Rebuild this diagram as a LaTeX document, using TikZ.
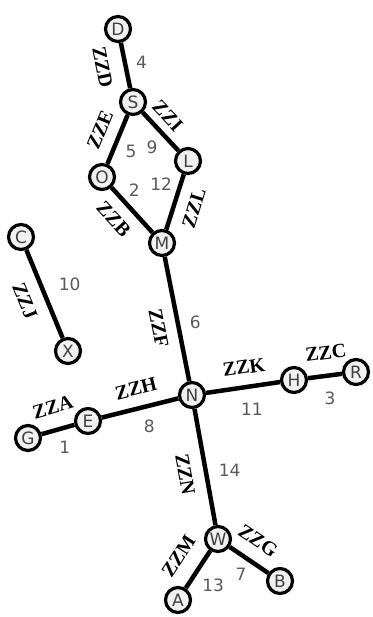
\documentclass[tikz,border=0pt]{standalone}
\usepackage{fontspec}
\newfontfamily\tagfont{Liberation Serif}
\newfontfamily\numfont{DejaVu Sans}
\usetikzlibrary{positioning}
\tikzset{
  vertex/.style={circle,draw,line width=3.2pt,fill=gray!12,minimum size=25pt,inner sep=0pt,
    text=black!75,font=\numfont\fontsize{17}{17}\selectfont},
  link/.style={line width=4.5pt},
  tag/.style={sloped,inner xsep=0pt,inner ysep=11pt,font=\tagfont\bfseries\fontsize{20}{20}\selectfont},
  cost/.style={inner sep=2pt,text=black!65,font=\numfont\fontsize{17}{17}\selectfont}
}

\begin{document}
\begin{tikzpicture}[x=1pt,y=-1pt]
\useasboundingbox (0,0) rectangle (372,617);
% vertices
\node[vertex] (D) at (118,29) {D};
\node[vertex] (S) at (133,102) {S};
\node[vertex] (O) at (102,177) {O};
\node[vertex] (L) at (188,161) {L};
\node[vertex] (M) at (162,243) {M};
\node[vertex] (C) at (21,237) {C};
\node[vertex] (X) at (68,351) {X};
\node[vertex] (N) at (192,395) {N};
\node[vertex] (E) at (88,421) {E};
\node[vertex] (G) at (28,438) {G};
\node[vertex] (H) at (294,380) {H};
\node[vertex] (R) at (356,372) {R};
\node[vertex] (W) at (218,539) {W};
\node[vertex] (A) at (178,600) {A};
\node[vertex] (B) at (280,581) {B};
% upper part
\draw[link] (D) -- node[tag,below,pos=.44,inner ysep=14pt] {ZZD} node[cost,pos=.43,right=7pt] {4} (S);
\draw[link] (O) -- node[tag,above,pos=.54] {ZZE} node[cost,pos=.25,right=9pt] {5} (S);
\draw[link] (S) -- node[tag,above,pos=.38,inner ysep=7pt] {ZZI} node[cost,pos=.59,below left=3pt] {9} (L);
\draw[link] (M) -- node[tag,below,pos=.5] {ZZL} node[cost,pos=.83,left=4.5pt] {12} (L);
\draw[link] (O) -- node[tag,below,pos=.41] {ZZB} node[cost,pos=.3,above right=1pt] {2} (M);
\draw[link] (C) -- node[tag,below,pos=.49,inner ysep=12pt] {ZZJ} node[cost,pos=.39,right=14pt] {10} (X);
% middle
\draw[link] (M) -- node[tag,below,pos=.545] {ZZF} node[cost,pos=.53,right=8pt] {6} (N);
\draw[link] (E) -- node[tag,above,pos=.51] {ZZH} node[cost,pos=.62,below=9.5pt] {8} (N);
\draw[link] (G) -- node[tag,above,pos=.53,inner ysep=14pt] {ZZA} node[cost,pos=.71,below=9.5pt] {1} (E);
\draw[link] (N) -- node[tag,above,pos=.55] {ZZK} node[cost,pos=.62,below=13pt] {11} (H);
\draw[link] (H) -- node[tag,above,pos=.61,inner ysep=14pt] {ZZC} node[cost,pos=.645,below=12pt] {3} (R);
% lower part
\draw[link] (N) -- node[tag,below,pos=.53,inner ysep=12pt] {ZZN} node[cost,pos=.53,right=9pt] {14} (W);
\draw[link] (A) -- node[tag,above,pos=.52,inner ysep=15pt] {ZZM} node[cost,pos=.42,below right=3pt] {13} (W);
\draw[link] (W) -- node[tag,above,pos=.43,inner ysep=12pt] {ZZG} node[cost,pos=.58,below left=2pt] {7} (B);
\end{tikzpicture}
\end{document}
